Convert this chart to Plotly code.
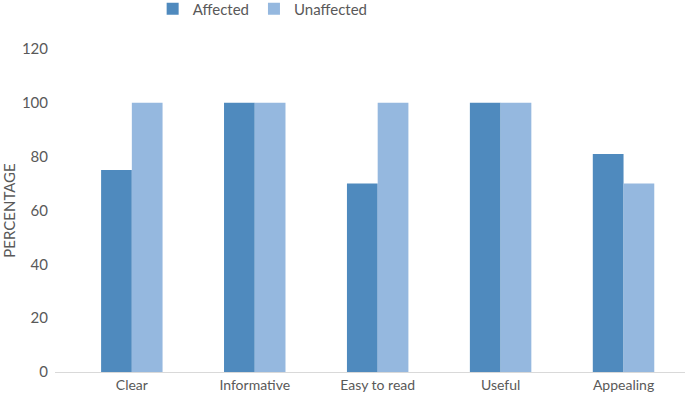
import plotly.graph_objects as go

categories = ["Clear", "Informative", "Easy to read", "Useful", "Appealing"]
affected = [75, 100, 70, 100, 81]
unaffected = [100, 100, 100, 100, 70]
y_ticks = [0, 20, 40, 60, 80, 100, 120]

fig = go.Figure()
fig.add_bar(x=categories, y=affected, name="Affected",
            marker=dict(color="#4F8ABE", line=dict(width=0)))
fig.add_bar(x=categories, y=unaffected, name="Unaffected",
            marker=dict(color="#95B8DF", line=dict(width=0)))

fig.update_layout(
    width=685, height=407,
    margin=dict(l=55, r=0, t=49, b=35, autoexpand=False),
    paper_bgcolor="white", plot_bgcolor="white",
    barmode="group", bargap=0.5, bargroupgap=0,
    font=dict(family="Lato, Open Sans, sans-serif", size=14, color="#595959"),
    legend=dict(orientation="h", x=0.155, xanchor="left", y=1.124, yanchor="middle",
                font=dict(size=15), itemwidth=30),
    xaxis=dict(range=[-0.625, 4.5], showline=True, linecolor="#D9D9D9", linewidth=1,
               ticks="", showgrid=False, tickfont=dict(size=14)),
    yaxis=dict(range=[0, 120], tickvals=y_ticks, showgrid=False, zeroline=False,
               showline=False, ticks="", ticklabelstandoff=6, tickfont=dict(size=15),
               title=dict(text="PERCENTAGE", font=dict(size=15), standoff=8)),
)

# page body has an 8px default margin; drop it so the figure sits at the window edge
fig.write_html("out.html", config={"displayModeBar": False},
               post_script="document.body.style.margin='0';")
